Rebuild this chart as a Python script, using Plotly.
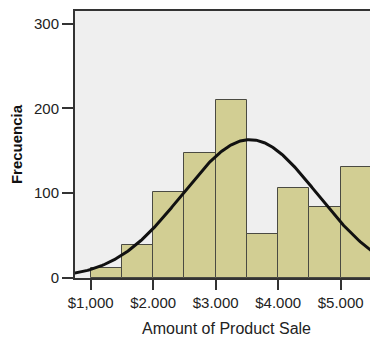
import numpy as np
import plotly.graph_objects as go

# Data
bin_edges = [1000, 1500, 2000, 2500, 3000, 3500, 4000, 4500, 5000, 5500]
counts = [12, 39, 101, 148, 210, 52, 106, 84, 131]
tick_vals = [1000, 2000, 3000, 4000, 5000]
tick_text = ["$1,000", "$2.000", "$3.000", "$4.000", "$5.000"]
y_ticks = [0, 100, 200, 300]

edges = np.array(bin_edges, dtype=float)
cnt = np.array(counts, dtype=float)
centers = (edges[:-1] + edges[1:]) / 2
width = edges[1] - edges[0]

# Normal curve fitted to the (binned) data, scaled to counts
n = cnt.sum()
mean = (centers * cnt).sum() / n
sd = np.sqrt(((centers - mean) ** 2 * cnt).sum() / n)
xs = np.linspace(700, 5700, 300)
ys = n * width * np.exp(-0.5 * ((xs - mean) / sd) ** 2) / (sd * np.sqrt(2 * np.pi))

fig = go.Figure()
fig.add_trace(go.Bar(
    x=centers, y=cnt, width=width,
    marker=dict(color="#D2CE93", line=dict(color="#4A4A42", width=1)),
    hoverinfo="skip",
))
fig.add_trace(go.Scatter(
    x=xs, y=ys, mode="lines",
    line=dict(color="#111111", width=3),
    hoverinfo="skip",
))

font = "Liberation Sans, Arial, sans-serif"
# page body has an 8px margin, so the figure is sized to fit the 378x338 window
fig.update_layout(
    width=370, height=330,
    margin=dict(l=67, r=0, t=3, b=60),
    paper_bgcolor="white",
    plot_bgcolor="#EFEFEF",
    showlegend=False,
    bargap=0,
    font=dict(family=font, color="#222222"),
)
fig.update_xaxes(
    range=[749, 5597], automargin=False,
    tickvals=tick_vals, ticktext=tick_text,
    ticks="outside", ticklen=10, tickwidth=1.5, tickcolor="#333333",
    showline=True, linecolor="#333333", linewidth=2, mirror=True,
    showgrid=False, zeroline=False,
    tickfont=dict(size=15, family=font, color="#222222"),
    title=dict(text="Amount of Product Sale", font=dict(size=16, family=font, color="#222222"), standoff=13),
)
fig.update_yaxes(
    range=[0, 315], automargin=False,
    tickvals=y_ticks,
    ticks="outside", ticklen=11, tickwidth=1.5, tickcolor="#333333",
    showline=True, linecolor="#333333", linewidth=2, mirror=True,
    showgrid=False, zeroline=False,
    tickfont=dict(size=15, family=font, color="#222222"),
    title=dict(text="<b>Frecuencia</b>", font=dict(size=15, family=font, color="#111111"), standoff=10),
)

fig.write_html("out.html")
